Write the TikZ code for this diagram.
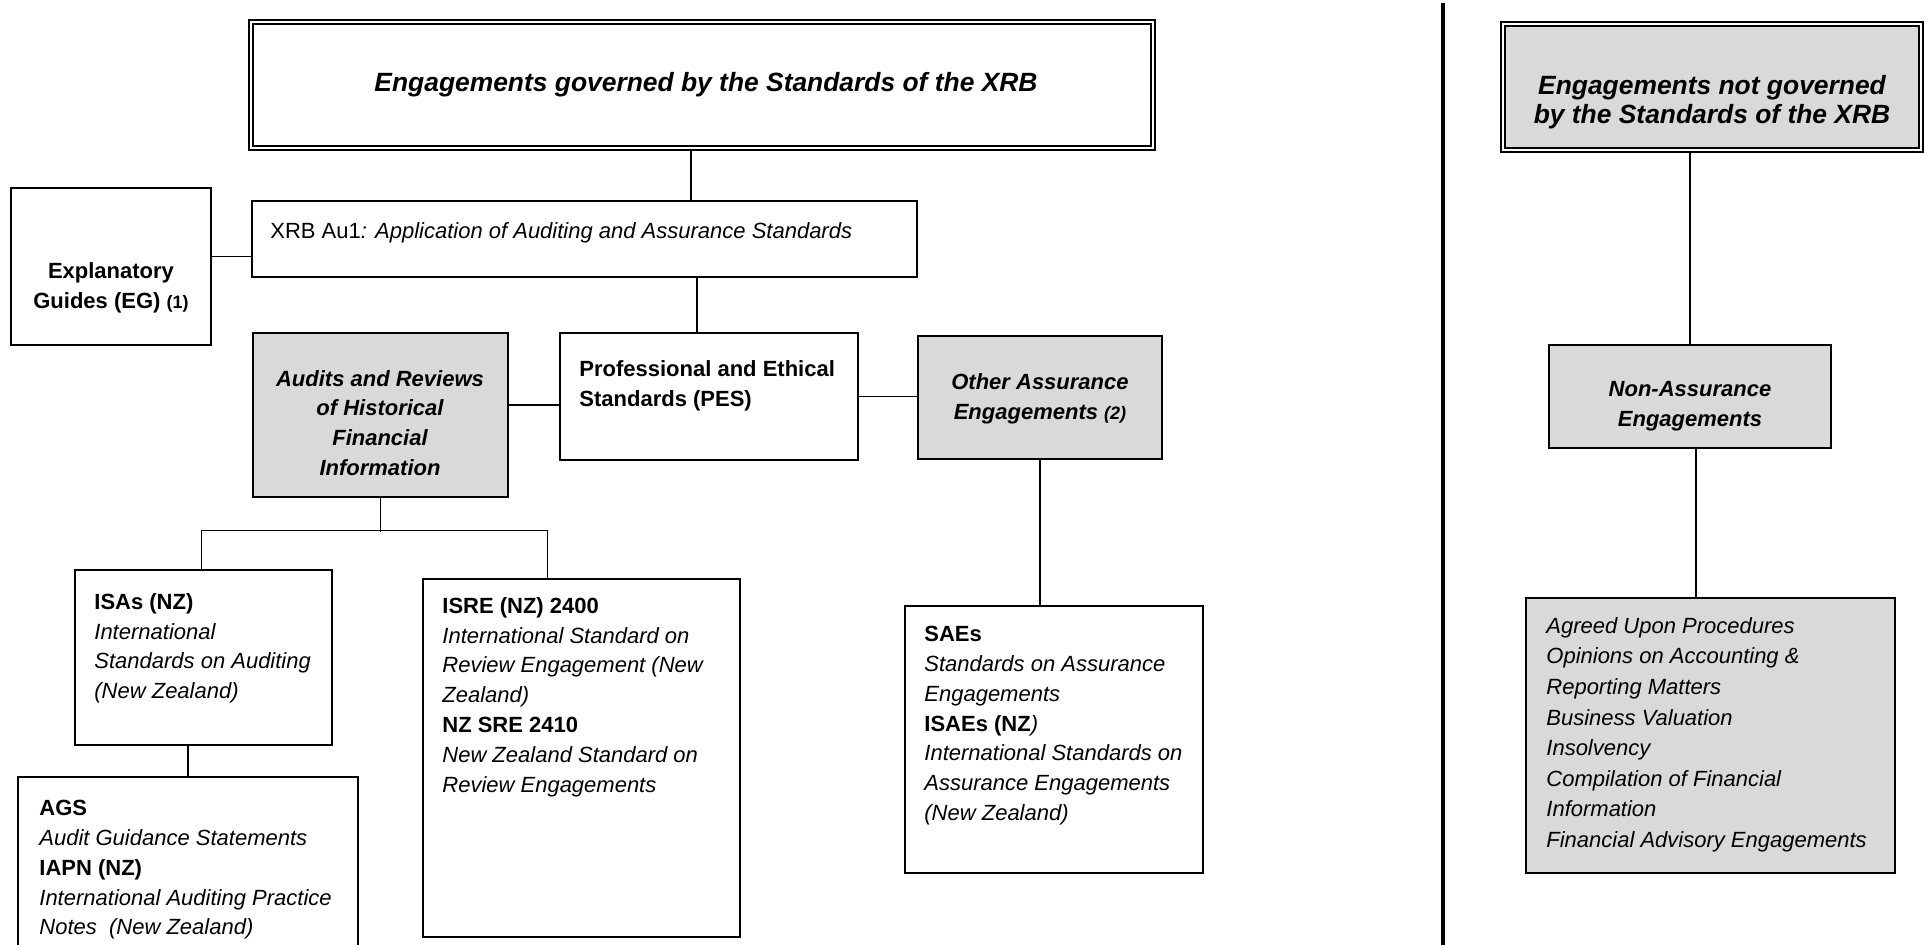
\documentclass[tikz,border=0pt]{standalone}
\usepackage{fontspec}
\setmainfont{Liberation Sans}
\usetikzlibrary{fit}
\tikzstyle{box} = [rectangle, draw=black, line width=0.7pt, inner sep=0pt]
\tikzstyle{grey} = [box, fill=black!15]
\tikzstyle{dbl} = [rectangle, draw=black, double, double distance=1.4pt, line width=0.9pt, inner sep=0pt]
\tikzstyle{txt} = [anchor=north west, align=left, inner sep=0pt, font=\fontsize{11}{14.9}\selectfont]
\tikzstyle{ctxt} = [align=center, inner sep=0pt, font=\fontsize{11}{14.9}\selectfont\bfseries\itshape]
\tikzstyle{ttl} = [align=center, inner sep=0pt, font=\fontsize{13.2}{14.7}\selectfont\bfseries\itshape]
\tikzstyle{line} = [line width=0.6pt]

\begin{document}
\begin{tikzpicture}[x=0.5pt, y=-0.5pt]
\clip (0,0) rectangle (1924,945);

% Left part - governed by the XRB
\node[dbl, fit={(251,22) (1153,148)}] (title) {};
\node[ttl] (titleTXT) at (706,85) {Engagements governed by the Standards of the XRB};

\node[box, fit={(252,201) (917,277)}] (au1) {};
\node[txt] (au1TXT) at (270,222) {XRB Au1\textit{: Application of Auditing and Assurance Standards}};

\node[box, fit={(11,188) (211,345)}] (expl) {};
\node[align=center, inner sep=0pt, font=\fontsize{11}{14.9}\selectfont\bfseries] (explTXT) at (111,288) {Explanatory\\Guides (EG) {\fontsize{9}{10}\selectfont(1)}};

\node[box, fit={(560,333) (858,460)}] (pes) {};
\node[txt, font=\fontsize{11}{14.9}\selectfont\bfseries] (pesTXT) at (579,360) {Professional and Ethical\\Standards (PES)};

\node[grey, fit={(253,333) (508,497)}] (audits) {};
\node[ctxt] (auditsTXT) at (380,423) {Audits and Reviews\\of Historical\\Financial\\Information};

\node[grey, fit={(918,336) (1162,459)}] (other) {};
\node[ctxt] (otherTXT) at (1040,399) {Other Assurance\\Engagements {\fontsize{9}{10}\selectfont(2)}};

\node[box, fit={(75,570) (332,745)}] (isas) {};
\node[txt] (isasTXT) at (94,593) {\textbf{ISAs (NZ)}\\\textit{International}\\\textit{Standards on Auditing}\\\textit{(New Zealand)}};

\node[box, fit={(423,579) (740,937)}] (isre) {};
\node[txt] (isreTXT) at (442,597) {\textbf{ISRE (NZ) 2400}\\\textit{International Standard on}\\\textit{Review Engagement (New}\\\textit{Zealand)}\\\textbf{NZ SRE 2410}\\\textit{New Zealand Standard on}\\\textit{Review Engagements}};

\node[box, fit={(18,777) (358,990)}] (ags) {};
\node[txt] (agsTXT) at (39,800) {\textbf{AGS}\\\textit{Audit Guidance Statements}\\\textbf{IAPN (NZ)}\\\textit{International Auditing Practice}\\\textit{Notes\ \ (New Zealand)}};

\node[box, fit={(905,606) (1203,873)}] (saes) {};
\node[txt] (saesTXT) at (924,626) {\textbf{SAEs}\\\textit{Standards on Assurance}\\\textit{Engagements}\\\textbf{ISAEs (NZ}\textit{)}\\\textit{International Standards on}\\\textit{Assurance Engagements}\\\textit{(New Zealand)}};

% Divider
\draw[line width=2pt] (1443,3) -- (1443,945);

% Right part - not governed by the XRB
\node[dbl, fill=black!15, fit={(1503,24) (1921,150)}] (notgov) {};
\node[ttl] (notgovTXT) at (1712,102) {Engagements not governed\\by the Standards of the XRB};

\node[grey, fit={(1549,345) (1831,448)}] (nonass) {};
\node[ctxt] (nonassTXT) at (1690,406) {Non-Assurance\\Engagements};

\node[grey, fit={(1526,598) (1895,873)}] (list) {};
\node[txt, font=\fontsize{11}{15.3}\selectfont\itshape] (listTXT) at (1546,617) {Agreed Upon Procedures\\Opinions on Accounting \&\\Reporting Matters\\Business Valuation\\Insolvency\\Compilation of Financial\\Information\\Financial Advisory Engagements};

% Connectors - left
\draw[line] ([xshift=-5.5pt]title.south) -- ([xshift=-5.5pt]title.south |- au1.north);
\draw[line] ([yshift=5pt]expl.east) -- ([yshift=5pt]expl.east -| au1.west);
\draw[line] ([xshift=-6pt]pes.north |- au1.south) -- ([xshift=-6pt]pes.north);
\draw[line] ([yshift=5pt]audits.east) -- ([yshift=5pt]audits.east -| pes.west);
\draw[line] (pes.east) -- (pes.east -| other.west);
\draw[line] (audits.south) -- ++(0,34);
\draw[line] ([xshift=-1pt]isas.north) -- ++(0,-39) -| ([xshift=-17pt]isre.north);
\draw[line] ([xshift=-7.75pt]isas.south) -- ([xshift=-7.75pt]isas.south |- ags.north);
\draw[line] (other.south) -- (other.south |- saes.north);

% Connectors - right
\draw[line] ([xshift=-11pt]notgov.south) -- ([xshift=-11pt]notgov.south |- nonass.north);
\draw[line] ([xshift=3pt]nonass.south) -- ([xshift=3pt]nonass.south |- list.north);

\end{tikzpicture}
\end{document}
